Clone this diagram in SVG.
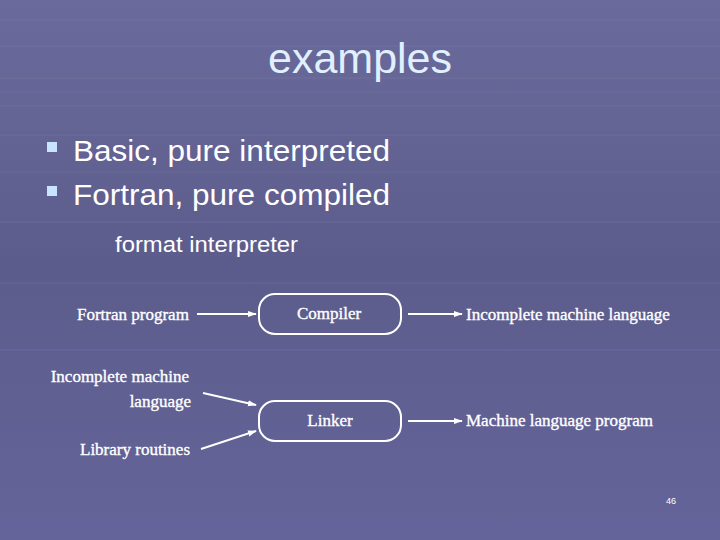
<svg xmlns="http://www.w3.org/2000/svg" width="720" height="540" viewBox="0 0 720 540">
<defs>
<linearGradient id="bg" x1="0" y1="0" x2="0" y2="1">
<stop offset="0" stop-color="#6a6a9c"/>
<stop offset="0.5" stop-color="#5c5c8c"/>
<stop offset="1" stop-color="#64649a"/>
</linearGradient>
<marker id="ah" viewBox="0 0 10 10" refX="9" refY="5" markerWidth="9" markerHeight="9" markerUnits="userSpaceOnUse" orient="auto">
<path d="M0,1.5 L10,5 L0,8.5 Z" fill="#ffffff"/>
</marker>
<style>
.title{font-family:"Liberation Sans",Arial,sans-serif;font-size:43px;fill:#e0f0ff}
.bul{font-family:"Liberation Sans",Arial,sans-serif;font-size:29px;fill:#ffffff}
.sub{font-family:"Liberation Sans",Arial,sans-serif;font-size:22px;fill:#ffffff}
.lbl{font-family:"Liberation Serif","Times New Roman",serif;font-size:17px;fill:#ffffff;stroke:#ffffff;stroke-width:0.35}
.box{fill:none;stroke:#ffffff;stroke-width:2}
.con{stroke:#ffffff;stroke-width:2;fill:none;marker-end:url(#ah)}
.grid{stroke:#8a8ab8;stroke-width:1;opacity:0.25}
</style>
</defs>
<rect x="0" y="0" width="720" height="540" fill="url(#bg)"/>
<g class="grid">
<line x1="0" y1="20" x2="720" y2="20"/>
<line x1="0" y1="46" x2="720" y2="46"/>
<line x1="0" y1="78" x2="720" y2="78"/>
<line x1="0" y1="92" x2="720" y2="92"/>
<line x1="0" y1="106" x2="720" y2="106"/>
<line x1="0" y1="135" x2="720" y2="135"/>
<line x1="0" y1="172" x2="720" y2="172"/>
<line x1="0" y1="222" x2="720" y2="222"/>
<line x1="0" y1="283" x2="720" y2="283"/>
<line x1="0" y1="350" x2="720" y2="350"/>
</g>
<text class="title" x="360" y="73" text-anchor="middle">examples</text>
<rect x="47" y="142" width="10" height="10" fill="#c8e4ff"/>
<text class="bul" x="73" y="161" textLength="317" lengthAdjust="spacingAndGlyphs">Basic, pure interpreted</text>
<rect x="47" y="186" width="10" height="10" fill="#c8e4ff"/>
<text class="bul" x="73" y="205" textLength="317" lengthAdjust="spacingAndGlyphs">Fortran, pure compiled</text>
<text class="sub" x="115" y="252" textLength="183" lengthAdjust="spacingAndGlyphs">format interpreter</text>
<g id="compiler">
<rect class="box" x="259" y="294" width="142" height="40" rx="16"/>
<text class="lbl" x="329" y="319" text-anchor="middle">Compiler</text>
</g>
<g id="linker">
<rect class="box" x="259" y="401" width="142" height="40" rx="16"/>
<text class="lbl" x="330" y="426" text-anchor="middle">Linker</text>
</g>
<g id="fortran-program"><text class="lbl" x="77" y="320">Fortran program</text></g>
<g id="incomplete-out"><text class="lbl" x="466" y="320">Incomplete machine language</text></g>
<g id="incomplete-in">
<text class="lbl" x="189" y="382" text-anchor="end">Incomplete machine</text>
<text class="lbl" x="191" y="407" text-anchor="end">language</text>
</g>
<g id="library"><text class="lbl" x="190" y="455" text-anchor="end">Library routines</text></g>
<g id="machine-out"><text class="lbl" x="466" y="426">Machine language program</text></g>
<g id="connectors">
<line class="con" x1="197" y1="314" x2="256" y2="314"/>
<line class="con" x1="408" y1="314" x2="462" y2="314"/>
<line class="con" x1="203" y1="393" x2="256" y2="405"/>
<line class="con" x1="201" y1="449" x2="256" y2="431"/>
<line class="con" x1="408" y1="421" x2="462" y2="421"/>
</g>
<text x="671" y="504" font-family="'Liberation Sans',Arial,sans-serif" font-size="9" fill="#ffffff" text-anchor="middle">46</text>
</svg>
